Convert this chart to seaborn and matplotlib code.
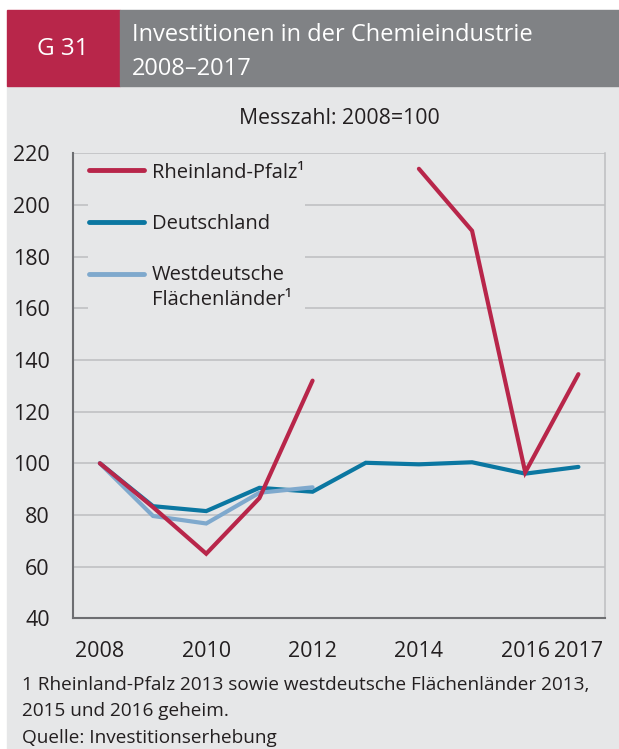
import numpy as np
import pandas as pd
import seaborn as sns
import matplotlib.pyplot as plt
from matplotlib.patches import Rectangle

# Data (Messzahl 2008 = 100)
YEARS = [2008, 2009, 2010, 2011, 2012, 2013, 2014, 2015, 2016, 2017]
RHEINLAND_PFALZ = [100, 83, 65, 86.5, 132, np.nan, 214, 190, 96.5, 134.5]
DEUTSCHLAND = [100, 83.4, 81.5, 90.5, 89, 100.2, 99.6, 100.4, 96, 98.6]
WESTDEUTSCHE = [100, 79.6, 76.7, 88.6, 90.7, np.nan, np.nan, np.nan, np.nan, np.nan]

SERIES = ["Rheinland-Pfalz¹", "Deutschland", "Westdeutsche\nFlächenländer¹"]
COLORS = ["#b8264a", "#0b77a1", "#7fa9cd"]
XTICK_YEARS = [2008, 2010, 2012, 2014, 2016, 2017]
YTICKS = [40, 60, 80, 100, 120, 140, 160, 180, 200, 220]

TITLE = "Investitionen in der Chemieindustrie\n2008–2017"
NOTE = ("1 Rheinland-Pfalz 2013 sowie westdeutsche Flächenländer 2013,\n"
        "2015 und 2016 geheim.\n"
        "Quelle: Investitionserhebung")

BG = "#e6e7e8"
W, H = 619, 749

if __name__ == "__main__":
    # Data Processing: long table, gaps split into separate segments
    frames = []
    for name, vals in zip(SERIES, [RHEINLAND_PFALZ, DEUTSCHLAND, WESTDEUTSCHE]):
        d = pd.DataFrame({"Jahr": YEARS, "Wert": vals, "Reihe": name})
        d["Segment"] = d["Wert"].isna().cumsum()
        frames.append(d.dropna())
    df = pd.concat(frames, ignore_index=True)

    sns.set_style("white")
    plt.rcParams["font.family"] = ["Open Sans", "DejaVu Sans"]

    fig = plt.figure(figsize=(W / 100, H / 100), dpi=100, facecolor="white")

    # panel background and header boxes (figure pixel coords)
    def px(x0, y0, x1, y1, color):
        fig.patches.append(Rectangle((x0 / W, 1 - y1 / H), (x1 - x0) / W, (y1 - y0) / H,
                                     transform=fig.transFigure, color=color, zorder=-10))
    px(7, 86, W, H, BG)
    px(7, 10, 120, 86, "#b8264a")
    px(120, 10, W, 86, "#808285")

    fig.text(63 / W, 1 - 49 / H, "G 31", color="white", fontsize=17.5, ha="center", va="center")
    fig.text(132 / W, 1 - 52 / H, TITLE, color="white", fontsize=17, ha="left", va="center",
             linespacing=1.55)

    ax = fig.add_axes([73.3 / W, 1 - 618.3 / H, 531.7 / W, 465 / H])
    ax.set_facecolor(BG)

    sns.lineplot(data=df, x="Jahr", y="Wert", hue="Reihe", units="Segment", estimator=None,
                 hue_order=SERIES, palette=COLORS, linewidth=3, ax=ax,
                 solid_capstyle="round", solid_joinstyle="miter")
    for ln in ax.lines:
        if ln.get_color() == COLORS[0]:
            ln.set_zorder(3)

    ax.set_xlim(2007.5, 2017.5)
    ax.set_ylim(40, 220)
    ax.set_yticks(YTICKS)
    ax.set_xticks(XTICK_YEARS)
    ax.set_xticklabels([str(y) for y in XTICK_YEARS])
    ax.set_xticks(np.arange(2007.5, 2018, 1), minor=True)
    ax.tick_params(axis="x", which="major", length=0, pad=16, labelsize=15.5, labelcolor="#231f20")
    ax.tick_params(axis="x", which="minor", length=7, width=1.2, color="#6d6e71", direction="out")
    ax.tick_params(axis="y", length=7, width=1.2, color="#6d6e71", pad=10, labelsize=15.5,
                   labelcolor="#231f20", direction="out")
    ax.grid(axis="y", color="#bdbec0", linewidth=1.1)
    ax.set_axisbelow(True)
    ax.set_xlabel("")
    ax.set_ylabel("")

    for side in ["left", "bottom"]:
        ax.spines[side].set_color("#6d6e71")
        ax.spines[side].set_linewidth(1.5)
    ax.spines["top"].set_visible(False)
    ax.spines["right"].set_color("#bdbec0")
    ax.spines["right"].set_linewidth(1.1)

    ax.set_title("Messzahl: 2008=100", fontsize=15.3, color="#231f20", pad=21)

    handles, labels = ax.get_legend_handles_labels()
    leg = ax.legend(handles, labels, loc="upper left", bbox_to_anchor=(0.009, 1.004),
                    fontsize=14.5, frameon=True, facecolor=BG, edgecolor="none", framealpha=1,
                    handlelength=2.7, handletextpad=0.4, labelspacing=1.55, borderpad=0.05,
                    fancybox=False)
    for t in leg.get_texts():
        t.set_color("#231f20")
        t.set_linespacing(1.35)
    for h in leg.legend_handles:
        h.set_linewidth(3.5)
    # put the handle of the two-line entry next to its first line
    last = leg.legend_handles[-1]
    last.set_ydata(np.asarray(last.get_ydata()) + 10)

    fig.text(22 / W, 1 - 676 / H, NOTE, fontsize=13.7, color="#231f20", ha="left", va="top",
             linespacing=1.6)

    plt.savefig("out.png", dpi=100, facecolor="white")
